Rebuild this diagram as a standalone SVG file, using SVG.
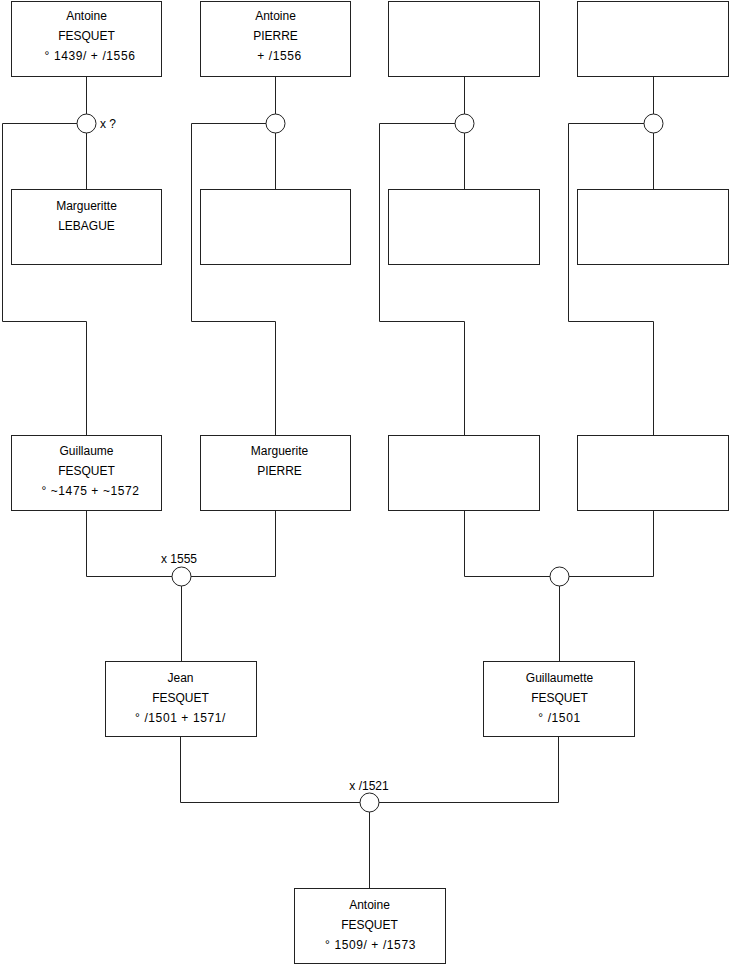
<svg xmlns="http://www.w3.org/2000/svg" width="740" height="975" viewBox="0 0 740 975">
<style>
.box{fill:#fff;stroke:#222;stroke-width:1}
.ln{fill:none;stroke:#222;stroke-width:1}
.c{fill:#fff;stroke:#222;stroke-width:1}
text{font-family:"Liberation Sans",Arial,sans-serif;font-size:12px;fill:#000;text-anchor:middle}
.lbl{text-anchor:start}
.d{letter-spacing:0.6px}
</style>
<rect width="740" height="975" fill="#fff"/>
<g id="connectors">
<path class="ln" d="M86.5,76 V189 M86.5,123.5 H2.5 V321.5 H86.5 V435"/>
<path class="ln" d="M275.5,76 V189 M275.5,123.5 H191.5 V321.5 H275.5 V435"/>
<path class="ln" d="M464.5,76 V189 M464.5,123.5 H379.5 V321.5 H464.5 V435"/>
<path class="ln" d="M653.5,76 V189 M653.5,123.5 H568.5 V321.5 H653.5 V435"/>
<path class="ln" d="M86.5,511 V576.5 H275.5 V511 M181.5,576.5 V661"/>
<path class="ln" d="M464.5,511 V576.5 H653.5 V511 M559.5,576.5 V661"/>
<path class="ln" d="M180.5,737 V802.5 H558.5 V737 M369.5,802.5 V888"/>
<circle class="c" cx="86.5" cy="123.5" r="9.5"/>
<circle class="c" cx="275.5" cy="123.5" r="9.5"/>
<circle class="c" cx="464.5" cy="123.5" r="9.5"/>
<circle class="c" cx="653.5" cy="123.5" r="9.5"/>
<circle class="c" cx="181.5" cy="576.5" r="9.5"/>
<circle class="c" cx="559.5" cy="576.5" r="9.5"/>
<circle class="c" cx="369.5" cy="802.5" r="9.5"/>
<text class="lbl" x="100" y="128">x ?</text>
<text x="179" y="563">x 1555</text>
<text x="369" y="790">x /1521</text>
</g>
<g id="n-antoine-fesquet-1">
<rect class="box" x="11.5" y="1.5" width="150" height="75"/>
<text x="86.5" y="20">Antoine</text>
<text x="86.5" y="40">FESQUET</text>
<text class="d" x="90" y="60">° 1439/ + /1556</text>
</g>
<g id="n-antoine-pierre">
<rect class="box" x="200.5" y="1.5" width="150" height="75"/>
<text x="275.5" y="20">Antoine</text>
<text x="275.5" y="40">PIERRE</text>
<text class="d" x="279.5" y="60">+ /1556</text>
</g>
<g id="n-empty-1"><rect class="box" x="388.5" y="1.5" width="151" height="75"/></g>
<g id="n-empty-2"><rect class="box" x="577.5" y="1.5" width="151" height="75"/></g>
<g id="n-margueritte-lebague">
<rect class="box" x="11.5" y="189.5" width="150" height="75"/>
<text x="86.5" y="210">Margueritte</text>
<text x="86.5" y="230">LEBAGUE</text>
</g>
<g id="n-empty-3"><rect class="box" x="200.5" y="189.5" width="150" height="75"/></g>
<g id="n-empty-4"><rect class="box" x="388.5" y="189.5" width="151" height="75"/></g>
<g id="n-empty-5"><rect class="box" x="577.5" y="189.5" width="151" height="75"/></g>
<g id="n-guillaume-fesquet">
<rect class="box" x="11.5" y="435.5" width="150" height="75"/>
<text x="86.5" y="455">Guillaume</text>
<text x="86.5" y="475">FESQUET</text>
<text class="d" x="90.5" y="495">° ~1475 + ~1572</text>
</g>
<g id="n-marguerite-pierre">
<rect class="box" x="200.5" y="435.5" width="150" height="75"/>
<text x="279.5" y="455">Marguerite</text>
<text x="279.5" y="475">PIERRE</text>
</g>
<g id="n-empty-6"><rect class="box" x="388.5" y="435.5" width="151" height="75"/></g>
<g id="n-empty-7"><rect class="box" x="577.5" y="435.5" width="151" height="75"/></g>
<g id="n-jean-fesquet">
<rect class="box" x="105.5" y="661.5" width="151" height="75"/>
<text x="180.5" y="682">Jean</text>
<text x="180.5" y="702">FESQUET</text>
<text class="d" x="180.5" y="722">° /1501 + 1571/</text>
</g>
<g id="n-guillaumette-fesquet">
<rect class="box" x="483.5" y="661.5" width="151" height="75"/>
<text x="559.5" y="682">Guillaumette</text>
<text x="559.5" y="702">FESQUET</text>
<text class="d" x="559.5" y="722">° /1501</text>
</g>
<g id="n-antoine-fesquet-2">
<rect class="box" x="294.5" y="888.5" width="151" height="75"/>
<text x="369.5" y="909">Antoine</text>
<text x="369.5" y="929">FESQUET</text>
<text class="d" x="370.5" y="949">° 1509/ + /1573</text>
</g>
</svg>
